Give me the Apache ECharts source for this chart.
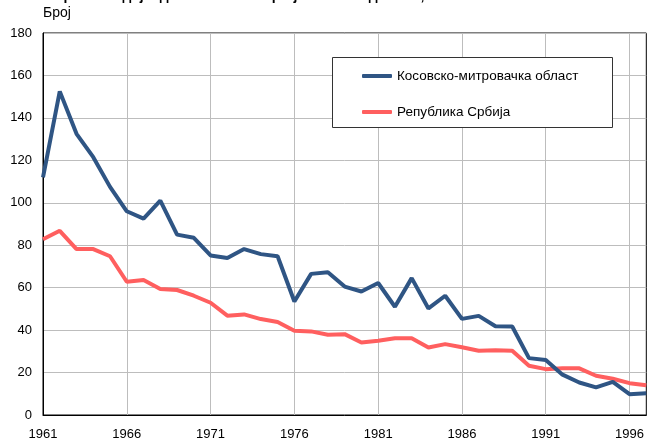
<!DOCTYPE html>
<html>
<head>
<meta charset="utf-8">
<script src="https://cdn.jsdelivr.net/npm/echarts@6/dist/echarts.min.js"></script>
<style>html,body{margin:0;padding:0;background:#fff}#c{width:647px;height:441px}</style>
</head>
<body>
<div id="c"></div>
<script>
const years = [];
for (let y = 1961; y <= 1997; y++) years.push(String(y));
const seriesNames = ['Косовско-митровачка област', 'Република Србија'];
const kosovoMitrovica = [112, 152.5, 132.5, 121.5, 107.5, 96, 92.5, 101, 85, 83.5, 75.2, 74, 78.2, 75.8, 74.8, 53.5, 66.5, 67.3, 60.5, 58.2, 62.2, 51, 64.5, 50.2, 56.2, 45.3, 46.7, 41.8, 41.7, 26.8, 25.9, 19, 15.3, 13, 15.6, 9.8, 10.3];
const serbia = [82.8, 86.8, 78.2, 78.2, 74.8, 62.8, 63.6, 59.4, 58.9, 56.2, 52.9, 46.8, 47.4, 45.2, 43.8, 39.7, 39.4, 37.8, 38.1, 34.2, 35, 36.2, 36.2, 31.8, 33.4, 31.9, 30.3, 30.5, 30.3, 23.2, 21.6, 22, 22, 18.5, 17.1, 15, 14];
const yTicks = {min: 0, max: 180, step: 20};
const titleText = 'Смртност одојчади на 1000 живорођених по годинама, 1961-1997';
const unitLabel = 'Број';

const chart = echarts.init(document.getElementById('c'), null, {renderer: 'canvas'});
const font = 'Arial, "Liberation Sans", sans-serif';
chart.setOption({
  animation: false,
  backgroundColor: '#fff',
  title: [
    {text: titleText, left: 43, top: -11, padding: 0,
     textStyle: {fontFamily: font, fontSize: 14, fontWeight: 'bold', color: '#000'}},
    {text: unitLabel, left: 43, top: 6, padding: 0,
     textStyle: {fontFamily: font, fontSize: 14, fontWeight: 'normal', color: '#000'}}
  ],
  grid: {left: 43, top: 33, width: 607, height: 382, show: true, borderColor: '#000', borderWidth: 1, containLabel: false},
  xAxis: {
    type: 'category', data: years, boundaryGap: false,
    axisLine: {lineStyle: {color: '#000', width: 1}},
    axisTick: {show: false},
    axisLabel: {interval: 4, color: '#000', fontFamily: font, fontSize: 13, margin: 13},
    splitLine: {show: true, interval: 4, lineStyle: {color: '#bdbdbd', width: 1}}
  },
  yAxis: {
    type: 'value', min: yTicks.min, max: yTicks.max, interval: yTicks.step,
    axisLine: {show: true, lineStyle: {color: '#000', width: 1}},
    axisTick: {show: false},
    axisLabel: {color: '#000', fontFamily: font, fontSize: 13, margin: 11},
    splitLine: {show: true, lineStyle: {color: '#bdbdbd', width: 1}}
  },
  graphic: [{
    type: 'rect', z: 10,
    shape: {x: 332.5, y: 57.5, width: 280, height: 70},
    style: {fill: '#fff', stroke: '#333', lineWidth: 1}
  }],
  legend: {
    z: 20, orient: 'vertical', left: 362, top: 69, padding: 0, itemGap: 22,
    itemWidth: 30, itemHeight: 4, icon: 'roundRect',
    textStyle: {fontFamily: font, fontSize: 13.5, color: '#000'},
    data: seriesNames
  },
  series: [
    {name: seriesNames[0], type: 'line', data: kosovoMitrovica, showSymbol: false, symbol: 'none',
     lineStyle: {color: '#2F5584', width: 4}, itemStyle: {color: '#2F5584'}, z: 3},
    {name: seriesNames[1], type: 'line', data: serbia, showSymbol: false, symbol: 'none',
     lineStyle: {color: '#FF5F5F', width: 4}, itemStyle: {color: '#FF5F5F'}, z: 2}
  ]
});
</script>
</body>
</html>
